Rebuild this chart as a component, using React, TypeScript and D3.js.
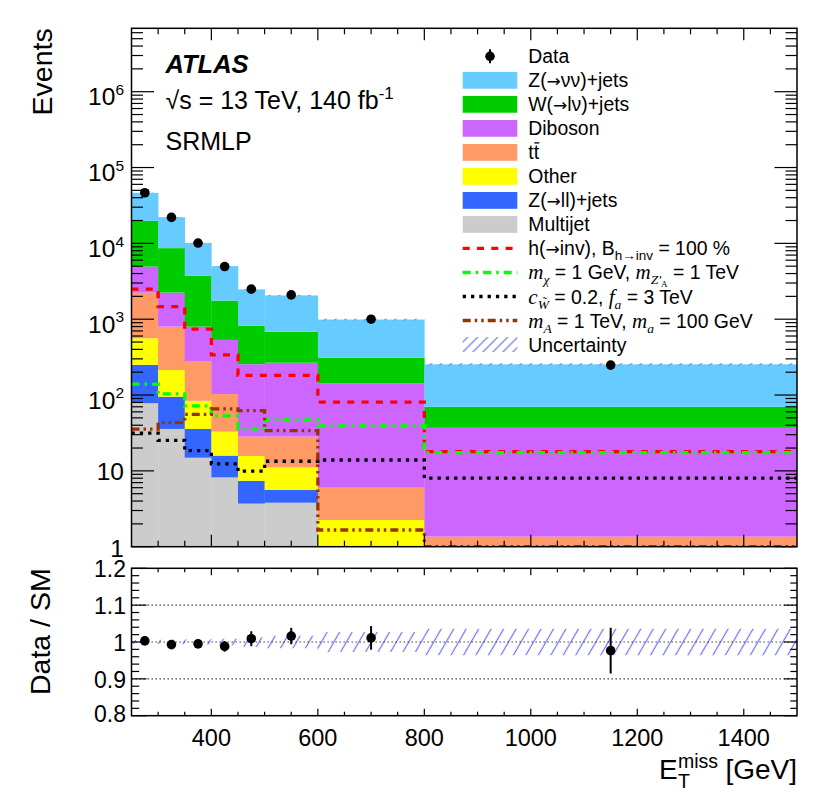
import React from 'react';
import * as d3 from 'd3';

// ---------------- data ----------------
const binEdges = [250, 300, 350, 400, 450, 500, 600, 800, 1500];
const multijet = [78, 35.7, 14.9, 8.2, 3.7, 3.8, 0.4, 0.05];
const zll = [172, 59.3, 20.8, 7.7, 3.7, 1.8, 0.4, 0.1];
const other = [311, 119, 48.3, 17.0, 8.3, 5.5, 1.45, 0.6];
const ttbar = [1683, 584, 192, 70.1, 12.6, 17.2, 3.75, 0.61];
const diboson = [2696, 1446, 522, 430, 226.7, 238.7, 137, 35.6];
const wjets = [14860, 6406, 2927, 1227, 569, 419, 169, 33];
const znn = [26560, 13505, 6426, 3250, 1644, 1371, 677, 184];
const dataCounts = [46500, 22000, 10100, 4950, 2490, 2090, 1000, 248];
const relUncertainty = [0.005, 0.006, 0.007, 0.009, 0.013, 0.017, 0.027, 0.036];
const sigHinv = [2490, 1466, 738, 338, 182, 182, 80.4, 17.9];
const sigZprime = [139, 103.5, 72, 53, 35.7, 47, 39.1, 17.4];
const sigAlp = [31.5, 25.3, 18.5, 12.4, 9.9, 13.4, 13.9, 8.0];
const sig2hdma = [35.5, 43.3, 55.5, 65.5, 62.3, 33.9, 1.66, 1.0];
const xTickLabels = [400, 600, 800, 1000, 1200, 1400];
const ratioTickLabels = [0.8, 0.9, 1.0, 1.1, 1.2];
const mainDecades = [0, 1, 2, 3, 4, 5, 6];

const ARROW = '\u2192';
const processes = [
  { key: 'multijet', label: 'Multijet', color: '#cccccc', values: multijet },
  { key: 'zll', label: ['Z(', ARROW, 'll)+jets'], color: '#3366ff', values: zll },
  { key: 'other', label: 'Other', color: '#ffff00', values: other },
  { key: 'ttbar', label: 'tt', color: '#ff9966', values: ttbar },
  { key: 'diboson', label: 'Diboson', color: '#cc66ff', values: diboson },
  { key: 'wjets', label: ['W(', ARROW, 'l\u03bd)+jets'], color: '#00cc00', values: wjets },
  { key: 'znn', label: ['Z(', ARROW, '\u03bd\u03bd)+jets'], color: '#66ccff', values: znn },
];

const signals = [
  { key: 'hinv', color: '#ff0000', dash: '7 7.3', values: sigHinv },
  { key: 'zp', color: '#00ff00', dash: '8 5 2.5 5', values: sigZprime },
  { key: 'alp', color: '#000000', dash: '3.3 5', values: sigAlp },
  { key: '2hdma', color: '#993300', dash: '8 4 2.5 4 2.5 4', values: sig2hdma },
];

// ---------------- geometry ----------------
const L = 131.5, R = 797, T = 28.3, B = 546.7;
const T2 = 568.3, B2 = 715.7;
const FONT = '"Liberation Sans", Arial, Helvetica, sans-serif';
const SERIF = '"Liberation Serif", "Times New Roman", serif';
const ARROWFONT = '"DejaVu Sans", "Liberation Sans", sans-serif';
const HATCH = '#6e6eff';

function Label({ parts }: { parts: any }) {
  if (typeof parts === 'string') return <>{parts}</>;
  return (
    <>
      <tspan>{parts[0]}</tspan>
      <tspan fontFamily={ARROWFONT} fontSize={17}>{parts[1]}</tspan>
      <tspan>{parts[2]}</tspan>
    </>
  );
}

export default function App() {
  const n = dataCounts.length;
  const x = d3.scaleLinear().domain([250, 1500]).range([L, R]);
  const yMax = Math.pow(10, 6.836);
  const y = d3.scaleLog().domain([1, yMax]).range([B, T]);
  const yr = d3.scaleLinear().domain([0.8, 1.2]).range([B2, T2]);

  const rows = d3.range(n).map((i) => {
    const r: any = { bin: i };
    processes.forEach((p) => (r[p.key] = p.values[i]));
    return r;
  });
  const stacked = d3.stack().keys(processes.map((p) => p.key))(rows);
  const totals = d3.range(n).map((i) => d3.sum(processes, (p) => p.values[i]));
  const ratio = totals.map((t, i) => dataCounts[i] / t);

  const clampY = (v: number) => y(Math.max(v, 1));
  const stepPath = (vals: number[]) =>
    d3
      .line<[number, number]>()
      .x((d) => x(d[0]))
      .y((d) => clampY(d[1]))
      .curve(d3.curveStepAfter)([
      ...vals.map((v, i) => [binEdges[i], v] as [number, number]),
      [binEdges[n], vals[n - 1]] as [number, number],
    ]) as string;

  const xMinor = d3.range(300, 1500, 50).filter((v) => v % 200 !== 0);
  const yMinorMain: number[] = [];
  mainDecades.forEach((d) => {
    for (let k = 2; k <= 9; k++) {
      const v = k * Math.pow(10, d);
      if (v < yMax) yMinorMain.push(v);
    }
  });
  const rMinor = d3
    .range(0, 21)
    .map((i) => 0.8 + i * 0.02)
    .filter((v) => Math.abs(v * 10 - Math.round(v * 10)) > 1e-6);

  const legendX0 = 462.7, legendX1 = 517.3, legendTX = 528.3;
  const ly = (i: number) => 56.3 + 24.02 * i;
  const lfs = 19.4;
  const subFs = 13.5;

  return (
    <svg width={822} height={798} style={{ position: 'absolute', left: 0, top: 0, background: '#fff' }} fontFamily={FONT}>
      <defs>
        <clipPath id="mainClip">
          <rect x={L} y={T} width={R - L} height={B - T} />
        </clipPath>
        <pattern id="hatchMain" patternUnits="userSpaceOnUse" width={7.07} height={10} patternTransform="rotate(45)">
          <line x1={3.5} y1={-1} x2={3.5} y2={11} stroke={HATCH} strokeWidth={1.2} />
        </pattern>
        <pattern id="hatchRatio" patternUnits="userSpaceOnUse" width={10.8} height={10} patternTransform="rotate(30)">
          <line x1={5.4} y1={-1} x2={5.4} y2={11} stroke={HATCH} strokeWidth={1.2} />
        </pattern>
      </defs>
      <rect x={0} y={0} width={822} height={798} fill="#fff" />

      {/* ---------- main panel ---------- */}
      <g clipPath="url(#mainClip)">
        {stacked.map((layer, li) => (
          <g key={layer.key} fill={processes[li].color}>
            {layer.map((d, i) => {
              const top = clampY(d[1]);
              const bot = clampY(d[0]);
              if (bot - top <= 0) return null;
              return (
                <rect key={i} x={x(binEdges[i])} y={top} width={x(binEdges[i + 1]) - x(binEdges[i]) + 0.3} height={bot - top} />
              );
            })}
          </g>
        ))}
        {totals.map((t, i) => (
          <rect
            key={'u' + i}
            x={x(binEdges[i])}
            y={y(t * (1 + relUncertainty[i]))}
            width={x(binEdges[i + 1]) - x(binEdges[i])}
            height={y(t * (1 - relUncertainty[i])) - y(t * (1 + relUncertainty[i]))}
            fill="url(#hatchMain)"
          />
        ))}
        {signals.map((s) => (
          <path key={s.key} d={stepPath(s.values)} fill="none" stroke={s.color} strokeWidth={3.3} strokeDasharray={s.dash} />
        ))}
      </g>
      {dataCounts.map((v, i) => {
        const cx = x((binEdges[i] + binEdges[i + 1]) / 2);
        const e = Math.sqrt(v);
        return (
          <g key={'d' + i}>
            <line x1={cx} x2={cx} y1={y(v + e)} y2={y(v - e)} stroke="#000" strokeWidth={2} />
            <circle cx={cx} cy={y(v)} r={4.8} fill="#000" />
          </g>
        );
      })}

      {/* main frame & ticks */}
      <g stroke="#000" strokeWidth={1.2}>
        {xTickLabels.map((v) => (
          <g key={'xm' + v}>
            <line x1={x(v)} x2={x(v)} y1={B} y2={B - 12} />
            <line x1={x(v)} x2={x(v)} y1={T} y2={T + 12} />
          </g>
        ))}
        {xMinor.map((v) => (
          <g key={'xn' + v}>
            <line x1={x(v)} x2={x(v)} y1={B} y2={B - 6} />
            <line x1={x(v)} x2={x(v)} y1={T} y2={T + 6} />
          </g>
        ))}
        {mainDecades.map((d) => {
          const yy = y(Math.pow(10, d));
          return (
            <g key={'ym' + d}>
              <line x1={L} x2={L + 22.5} y1={yy} y2={yy} />
              <line x1={R} x2={R - 22.5} y1={yy} y2={yy} />
            </g>
          );
        })}
        {yMinorMain.map((v) => (
          <g key={'yn' + v}>
            <line x1={L} x2={L + 11.5} y1={y(v)} y2={y(v)} />
            <line x1={R} x2={R - 11.5} y1={y(v)} y2={y(v)} />
          </g>
        ))}
      </g>
      <rect x={L} y={T} width={R - L} height={B - T} fill="none" stroke="#000" strokeWidth={1.5} />

      {/* main y labels */}
      {mainDecades.map((d) => {
        const yy = y(Math.pow(10, d));
        if (d === 0)
          return (
            <text key={'yl' + d} x={124} y={yy + 10} fontSize={24.5} textAnchor="end">1</text>
          );
        if (d === 1)
          return (
            <text key={'yl' + d} x={124} y={yy + 9.3} fontSize={24.5} textAnchor="end">10</text>
          );
        return (
          <text key={'yl' + d} x={124} y={yy + 13.8} fontSize={24.5} textAnchor="end">
            10<tspan fontSize={15.5} dy={-10.5}>{d}</tspan>
          </text>
        );
      })}
      <text transform={`translate(52,${T}) rotate(-90)`} fontSize={28.5} textAnchor="end">Events</text>

      {/* labels */}
      <text x={165.5} y={72.7} fontSize={25.5} fontWeight="bold" fontStyle="italic">ATLAS</text>
      <text x={165.5} y={108.5} fontSize={25}>
        {'\u221As = 13 TeV, 140 fb'}
        <tspan fontSize={17} dy={-10}>-1</tspan>
      </text>
      <text x={165.5} y={150} fontSize={25}>SRMLP</text>

      {/* legend */}
      <g fontSize={lfs}>
        <line x1={490} x2={490} y1={ly(0) - 7} y2={ly(0) + 7} stroke="#000" strokeWidth={2} />
        <circle cx={490} cy={ly(0)} r={4.8} fill="#000" />
        <text x={legendTX} y={ly(0) + 7}>Data</text>
        {processes
          .slice()
          .reverse()
          .map((p, j) => {
            const i = j + 1;
            return (
              <g key={'lg' + p.key}>
                <rect x={legendX0} y={ly(i) - 8.4} width={legendX1 - legendX0} height={16.8} fill={p.color} />
                {p.key === 'ttbar' ? (
                  <g>
                    <text x={legendTX} y={ly(i) + 7}>tt</text>
                    <line x1={legendTX + 6} x2={legendTX + 11} y1={ly(i) - 9.5} y2={ly(i) - 9.5} stroke="#000" strokeWidth={1.3} />
                  </g>
                ) : (
                  <text x={legendTX} y={ly(i) + 7}>
                    <Label parts={p.label} />
                  </text>
                )}
              </g>
            );
          })}
        {signals.map((s, j) => (
          <line key={'ls' + s.key} x1={legendX0} x2={legendX1} y1={ly(8 + j)} y2={ly(8 + j)} stroke={s.color} strokeWidth={3.3} strokeDasharray={s.dash} />
        ))}
        <text x={legendTX} y={ly(8) + 7}>
          <tspan>h(</tspan>
          <tspan fontFamily={ARROWFONT} fontSize={17}>{ARROW}</tspan>
          <tspan>{'inv), B'}</tspan>
          <tspan fontSize={subFs} dy={5}>{'h' + ARROW + 'inv'}</tspan>
          <tspan dy={-5}>{' = 100 %'}</tspan>
        </text>
        <text x={legendTX} y={ly(9) + 7}>
          <tspan fontFamily={SERIF} fontStyle="italic" fontSize={21}>m</tspan>
          <tspan fontSize={subFs} dy={5} fontFamily={SERIF} fontStyle="italic">{'\u03c7'}</tspan>
          <tspan dy={-5}>{' = 1 GeV, '}</tspan>
          <tspan fontFamily={SERIF} fontStyle="italic" fontSize={21}>m</tspan>
          <tspan fontSize={subFs} dy={5} fontFamily={SERIF} fontStyle="italic">{"Z'"}</tspan>
          <tspan fontSize={9} dy={3} fontFamily={SERIF}>A</tspan>
          <tspan dy={-8}>{' = 1 TeV'}</tspan>
        </text>
        <text x={legendTX} y={ly(10) + 7}>
          <tspan fontFamily={SERIF} fontStyle="italic" fontSize={21}>c</tspan>
          <tspan fontSize={subFs} dy={5} fontFamily={SERIF} fontStyle="italic">{'W\u0303'}</tspan>
          <tspan dy={-5}>{' = 0.2, '}</tspan>
          <tspan fontFamily={SERIF} fontStyle="italic" fontSize={21}>f</tspan>
          <tspan fontSize={subFs} dy={5} fontFamily={SERIF} fontStyle="italic">a</tspan>
          <tspan dy={-5}>{' = 3 TeV'}</tspan>
        </text>
        <text x={legendTX} y={ly(11) + 7}>
          <tspan fontFamily={SERIF} fontStyle="italic" fontSize={21}>m</tspan>
          <tspan fontSize={subFs} dy={5} fontFamily={SERIF} fontStyle="italic">A</tspan>
          <tspan dy={-5}>{' = 1 TeV, '}</tspan>
          <tspan fontFamily={SERIF} fontStyle="italic" fontSize={21}>m</tspan>
          <tspan fontSize={subFs} dy={5} fontFamily={SERIF} fontStyle="italic">a</tspan>
          <tspan dy={-5}>{' = 100 GeV'}</tspan>
        </text>
        <rect x={legendX0} y={ly(12) - 7.5} width={legendX1 - legendX0} height={15} fill="url(#hatchMain)" />
        <text x={legendTX} y={ly(12) + 7}>Uncertainty</text>
      </g>

      {/* ---------- ratio panel ---------- */}
      {totals.map((t, i) => (
        <rect
          key={'ru' + i}
          x={x(binEdges[i])}
          y={yr(1 + relUncertainty[i])}
          width={x(binEdges[i + 1]) - x(binEdges[i])}
          height={yr(1 - relUncertainty[i]) - yr(1 + relUncertainty[i])}
          fill="url(#hatchRatio)"
        />
      ))}
      {[0.9, 1.0, 1.1].map((v) => (
        <line key={'g' + v} x1={L} x2={R} y1={yr(v)} y2={yr(v)} stroke="#333" strokeWidth={1.1} strokeDasharray="1.4 2.6" />
      ))}
      {ratio.map((r, i) => {
        const cx = x((binEdges[i] + binEdges[i + 1]) / 2);
        const e = Math.sqrt(dataCounts[i]) / totals[i];
        return (
          <g key={'r' + i}>
            <line x1={cx} x2={cx} y1={yr(r + e)} y2={yr(r - e)} stroke="#000" strokeWidth={2} />
            <circle cx={cx} cy={yr(r)} r={4.8} fill="#000" />
          </g>
        );
      })}
      <g stroke="#000" strokeWidth={1.2}>
        {xTickLabels.map((v) => (
          <g key={'rxm' + v}>
            <line x1={x(v)} x2={x(v)} y1={B2} y2={B2 - 7} />
            <line x1={x(v)} x2={x(v)} y1={T2} y2={T2 + 7} />
          </g>
        ))}
        {xMinor.map((v) => (
          <g key={'rxn' + v}>
            <line x1={x(v)} x2={x(v)} y1={B2} y2={B2 - 4} />
            <line x1={x(v)} x2={x(v)} y1={T2} y2={T2 + 4} />
          </g>
        ))}
        {ratioTickLabels.map((v) => (
          <g key={'rym' + v}>
            <line x1={L} x2={L + 15} y1={yr(v)} y2={yr(v)} />
            <line x1={R} x2={R - 13} y1={yr(v)} y2={yr(v)} />
          </g>
        ))}
        {rMinor.map((v) => (
          <g key={'ryn' + v}>
            <line x1={L} x2={L + 7.7} y1={yr(v)} y2={yr(v)} />
            <line x1={R} x2={R - 6.7} y1={yr(v)} y2={yr(v)} />
          </g>
        ))}
      </g>
      <rect x={L} y={T2} width={R - L} height={B2 - T2} fill="none" stroke="#000" strokeWidth={1.5} />
      {ratioTickLabels.map((v) => (
        <text key={'rl' + v} x={126} y={yr(v) + (v === 0.8 ? 6 : 9)} fontSize={23} textAnchor="end">
          {v === 1 ? '1' : v.toFixed(1)}
        </text>
      ))}
      {xTickLabels.map((v) => (
        <text key={'xl' + v} x={x(v)} y={746} fontSize={23.5} textAnchor="middle">{v}</text>
      ))}
      <text transform={`translate(50,${T2}) rotate(-90)`} fontSize={28.5} textAnchor="end">Data / SM</text>

      {/* x axis title */}
      <text x={659} y={779} fontSize={28}>E</text>
      <text x={678} y={768} fontSize={19.5}>miss</text>
      <text x={678} y={788} fontSize={19.5}>T</text>
      <text x={797} y={779} fontSize={28} textAnchor="end">[GeV]</text>
    </svg>
  );
}
